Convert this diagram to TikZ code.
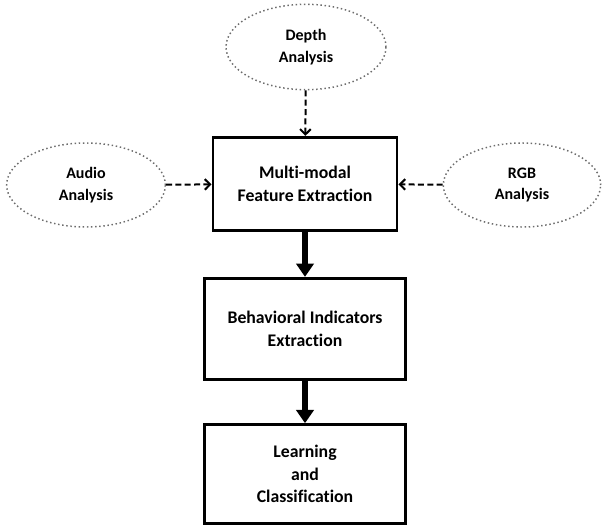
\documentclass[tikz,border=0pt]{standalone}
\usepackage{fontspec}
\setmainfont[Ligatures=NoCommon]{Carlito}
\usepackage{tikz}
\usetikzlibrary{shapes,arrows,positioning,calc,arrows.meta}

\tikzset{
    modality/.style={ellipse, draw=gray!85!black, dotted, line width=1.1pt, align=center,
        font=\bfseries\fontsize{12}{16}\selectfont},
    stage/.style={rectangle, draw, line width=2.2pt, align=center,
        font=\bfseries\fontsize{13.3}{17}\selectfont},
    feed/.style={dashed, line width=1.5pt, dash pattern=on 4.5pt off 2.5pt, -{Straight Barb[length=4pt,width=8pt]}},
    flow/.style={line width=4pt, -{Triangle[length=10pt,width=13pt]}}
}

\begin{document}
\begin{tikzpicture}[x=0.75pt, y=-0.75pt]
    \useasboundingbox (0,0) rectangle (602,527);

    % input analyses
    \node[modality, minimum width=120pt, minimum height=64pt] (depth) at (306,47) {Depth\\Analysis};
    \node[modality, minimum width=119pt, minimum height=63pt] (audio) at (86,185) {Audio\\Analysis};
    \node[modality, minimum width=118pt, minimum height=63pt] (rgb) at (522,185) {RGB\\Analysis};

    % processing stages
    \node[stage, minimum width=138pt, minimum height=70pt] (feat) at (305,184) {Multi-modal\\Feature Extraction};
    \node[stage, minimum width=151pt, minimum height=76pt] (behav) at (305,329) {Behavioral Indicators\\Extraction};
    \node[stage, minimum width=151pt, minimum height=74pt] (learn) at (305,474) {Learning\\and\\Classification};

    \draw[feed] (depth) -- (feat);
    \draw[feed] (audio) -- (feat);
    \draw[feed] (rgb) -- (feat);

    \draw[flow] (feat) -- (behav);
    \draw[flow] (behav) -- (learn);
\end{tikzpicture}
\end{document}
